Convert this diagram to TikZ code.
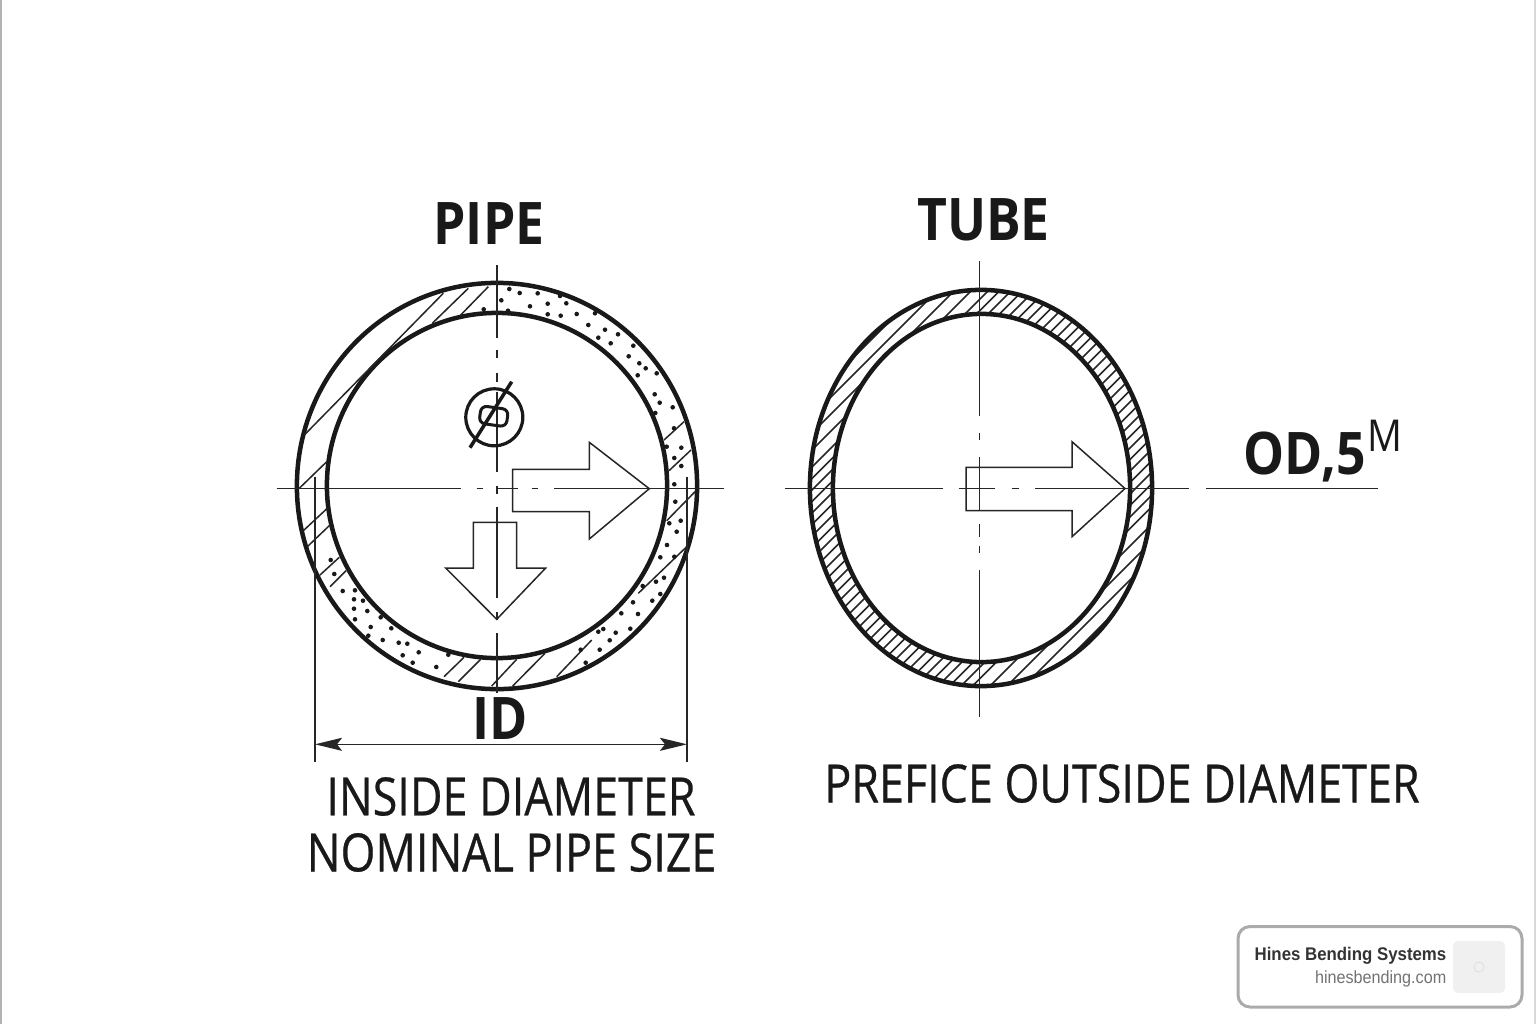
\documentclass[tikz,border=0pt]{standalone}
\usepackage{fontspec}
\usetikzlibrary{arrows.meta}
\setmainfont{Liberation Sans}
\newfontfamily\labelfont[FakeStretch=0.88]{Open Sans}
\newfontfamily\sublabelfont[FakeStretch=0.85,FakeBold=0.5]{Open Sans}
\newfontfamily\badgefont[FakeStretch=0.92]{Liberation Sans}
\def\pipeouter{(497,486) ellipse (2.00cm and 2.03cm)}
\def\pipeinner{(497,485.5) ellipse (1.70cm and 1.725cm)}
\def\tubeouter{(981,488) ellipse (1.71cm and 1.98cm)}
\def\tubeinner{(981.5,488) ellipse (1.485cm and 1.74cm)}
\tikzset{
	wall/.style={line width=0.045cm, color=black!90},
	thinline/.style={line width=0.016cm, color=black!85},
	hatchline/.style={line width=0.015cm, color=black!85},
	arrowline/.style={line width=0.015cm, color=black!85, line join=miter},
	grit/.style={fill=black!90},
	biglabel/.style={font=\labelfont\bfseries\fontsize{16.7}{16.7}\selectfont, color=black!90, inner sep=0pt},
	sublabel/.style={font=\sublabelfont\fontsize{15}{15}\selectfont, color=black!90, inner sep=0pt},
	dimtip/.tip={Stealth[length=0.27cm, width=0.13cm, inset=0.05cm]},
}

\begin{document}
\begin{tikzpicture}[x=0.01cm, y=-0.01cm]
	\useasboundingbox (0, 0) rectangle (1536, 1024);
	\fill[white] (0, 0) rectangle (1536, 1024);
	\fill[black!30] (0, 0) rectangle (2, 1024);
	\fill[black!15] (1534, 0) rectangle (1536, 1024);

	%%%%% PIPE %%%%%

	\draw[wall] \pipeouter;
	\draw[wall] \pipeinner;

	\foreach \xa/\ya/\xb/\yb in {443.3/293.3/305/434.3, 468.3/288.3/432.3/323.3, 488.3/286.7/460.7/315,
			326.7/461.7/299.3/488.3, 684/421.7/664/440, 691/450/669/470.7, 695/491.7/666.7/520.7,
			686.7/546.7/638.3/593.3, 591.7/640/556.7/676.7, 545/653.3/512.7/686, 516.7/659.3/491.7/686,
			480.7/659.3/458.3/681.7, 464/657.3/444/676.7, 327.3/508.3/303.3/530.7, 330/525/307.3/546.7,
			339.3/557.3/320/575, 346/570.7/330/586.7}
		\draw[hatchline] (\xa, \ya) -- (\xb, \yb);

	\foreach \xa/\ya in {509.3/289, 519.7/293, 537.7/293.3, 560/296, 501.3/300.3, 547.7/303.7, 566.3/303.3,
			530/306.3, 483.7/309.3, 508/310.7, 547.7/314.3, 560.7/315.7, 576.7/314, 595/313.3, 588.3/325,
			605/329.7, 618/334.3, 598.3/337.7, 610.7/343.3, 633.3/345.7, 628.7/356.3, 639.3/363.3,
			645.7/368.3, 656.7/373.3, 637.7/375.3, 654.7/394.3, 659.7/402.7, 672.7/407.3, 655.3/413,
			674/428.3, 666.7/446.7, 681.3/447.7, 674.3/458, 681.3/466, 674.3/484.3, 675.3/501.7,
			669.3/523.3, 676.7/531.7, 680.7/520.7, 667/545, 660.3/557.3, 674.3/556.7, 664/577.7,
			656/581.7, 660.3/594, 652.3/600.7, 642.7/586, 638/614, 633/602.3, 621.3/613.3, 630.3/628.7,
			615.7/632.7, 609.7/640.3, 603.3/629, 598.3/631.7, 599.7/649.7, 580.7/649.7, 585.7/662.7,
			330.7/560, 334.3/574, 342.7/591, 355/590.3, 354/599.3, 363/600.7, 354/608.7, 367.3/611,
			380.7/617.3, 355/619.3, 370.7/627, 391.3/628.3, 368.3/635.7, 382.7/640, 398.7/642.7,
			407.3/643.7, 418.7/652.3, 402.7/655.3, 412.7/662.7, 436.3/667, 448.3/654.7}
		\fill[grit] (\xa, \ya) circle (0.023cm);

	\foreach \ya/\yb in {265/338, 350/358, 372.7/381.7, 391.7/471.7, 486/494, 506.7/598, 612/620, 633/693}
		\draw[thinline] (497, \ya) -- (497, \yb);
	\foreach \xa/\xb in {276.7/460.7, 476.7/483.3, 497/518, 531.7/537.7, 554.3/724}
		\draw[thinline] (\xa, 488.5) -- (\xb, 488.5);

	\draw[line width=0.032cm, color=black!90] (494.3, 417.3) circle (0.285cm);
	\draw[line width=0.035cm, color=black!90] (511.7, 381.7) -- (470, 447.7);
	\draw[line width=0.03cm, color=black!90, rounded corners=0.06cm, rotate around={-8:(493.5, 416)}] (480, 407.5) rectangle (507.5, 425);

	\draw[arrowline] (512.7, 469.3) -- (589.3, 469.3) -- (589.3, 442.3) -- (649.3, 488.7) -- (589.3, 539) -- (589.3, 511.7) -- (512.7, 511.7) -- cycle;
	\draw[arrowline] (473.3, 522.3) -- (516.7, 522.3) -- (516.7, 568) -- (545.7, 568) -- (496.7, 619.3) -- (445.7, 568) -- (473.3, 568) -- cycle;

	\coordinate (idleft) at (315, 744.3);
	\coordinate (idright) at (687, 744.3);
	\draw[thinline] (315, 476.7) -- (315, 761.7);
	\draw[thinline] (687, 476.7) -- (687, 761.7);
	\draw[thinline, dimtip-dimtip] (idleft) -- (idright);

	\node[biglabel] (pipelabel) at (489, 224) {PIPE};
	\node[biglabel] (idlabel) at (500, 719) {ID};
	\node[sublabel] (insidelabel) at (511, 796.5) {INSIDE DIAMETER};
	\node[sublabel] (nominallabel) at (511.5, 852.5) {NOMINAL PIPE SIZE};

	%%%%% TUBE %%%%%

	\begin{scope}[even odd rule]
		\clip \tubeouter \tubeinner;
		\foreach \k in {-190, -178.5, ..., 190, -207, -224, ..., -430, 207, 224, ..., 430}
			\draw[hatchline] ({981+\k-260}, 748) -- ({981+\k+260}, 228);
	\end{scope}
	\draw[wall] \tubeouter;
	\draw[wall] \tubeinner;

	\foreach \ya/\yb in {261/416, 432.7/440, 456.7/510.7, 524/537, 546/553, 570/717}
		\draw[thinline] (979.5, \ya) -- (979.5, \yb);
	\foreach \xa/\xb in {785/943, 959/995.4, 1011.7/1019, 1035/1189, 1206/1378}
		\draw[thinline] (\xa, 488.5) -- (\xb, 488.5);

	\draw[arrowline] (966, 467.3) -- (1072, 467.3) -- (1072, 441.7) -- (1125, 488.5) -- (1072, 536.7) -- (1072, 510.7) -- (966, 510.7) -- cycle;

	\node[biglabel] (tubelabel) at (983.5, 220) {TUBE};
	\node[biglabel, anchor=base west] (odlabel) at (1243, 474) {OD,5};
	\node[inner sep=0pt, anchor=base west, color=black!90, font=\labelfont\fontsize{12.5}{12.5}\selectfont] (mlabel) at (1367, 451) {M};
	\node[sublabel] (outsidelabel) at (1122, 783.5) {PREFICE OUTSIDE DIAMETER};

	%%%%% BADGE %%%%%

	\draw[line width=0.03cm, color=black!33, fill=white, rounded corners=0.12cm] (1238, 926.5) rectangle (1522, 1007);
	\fill[color=black!6, rounded corners=0.05cm] (1453, 941) rectangle (1505, 993);
	\draw[line width=0.01cm, color=black!12] (1479, 967) circle (0.05cm);
	\node[inner sep=0pt, anchor=base east, color=black!80, font=\badgefont\bfseries\fontsize{5.2}{5.2}\selectfont] (badgename) at (1447, 960) {Hines Bending Systems};
	\node[inner sep=0pt, anchor=base east, color=black!55, font=\badgefont\fontsize{5}{5}\selectfont] (badgesite) at (1447, 983) {hinesbending.com};
\end{tikzpicture}
\end{document}
